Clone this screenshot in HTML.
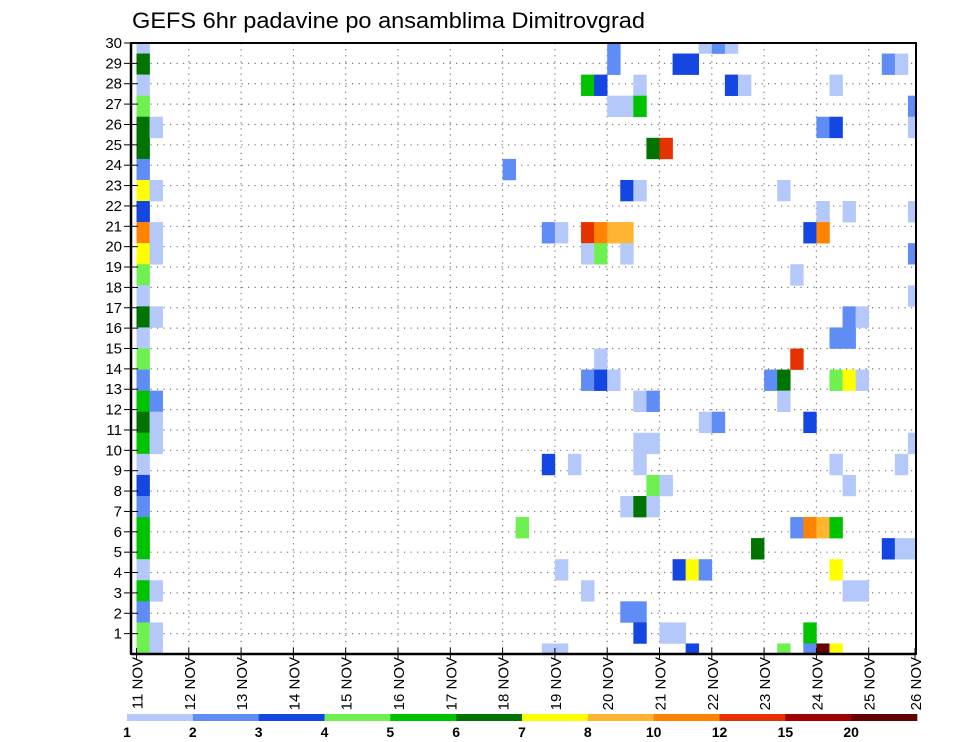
<!DOCTYPE html>
<html>
<head>
<meta charset="utf-8">
<style>
  html,body{margin:0;padding:0;background:#fff;}
  svg{display:block;}
  text{font-family:"Liberation Sans","DejaVu Sans",sans-serif;fill:#000;}
</style>
</head>
<body>
<svg id="chart" width="960" height="742" viewBox="0 0 960 742" xmlns="http://www.w3.org/2000/svg">
  <defs>
    <clipPath id="plotClip"><rect x="131" y="43" width="785" height="611"/></clipPath>
  </defs>
  <text x="132" y="28" font-size="22" textLength="513" lengthAdjust="spacingAndGlyphs">GEFS 6hr padavine po ansamblima Dimitrovgrad</text>
  <g id="grid"></g>
  <g id="cells" clip-path="url(#plotClip)"></g>
  <rect x="131" y="43" width="785" height="611" fill="none" stroke="#000" stroke-width="2"/>
  <g id="axes"></g>
  <g id="legend"></g>
</svg>
<script>
// ---- data ----
const dayLabels = ["11 NOV","12 NOV","13 NOV","14 NOV","15 NOV","16 NOV","17 NOV","18 NOV","19 NOV","20 NOV","21 NOV","22 NOV","23 NOV","24 NOV","25 NOV","26 NOV"];
const memberLabels = [1,2,3,4,5,6,7,8,9,10,11,12,13,14,15,16,17,18,19,20,21,22,23,24,25,26,27,28,29,30];
const levelColors = ["#b4c8fa","#5f8cf5","#1446e1","#6ef050","#00c300","#007300","#ffff00","#ffb432","#ff8200","#e63200","#a00000","#640000"];
const legendLabels = ["1","2","3","4","5","6","7","8","10","12","15","20"];
// column 0 full sequence for members 29..0
const col0Levels = [1,6,1,4,6,6,2,7,3,9,7,4,1,6,1,4,2,5,6,5,1,3,2,5,5,1,5,2,4,4];
// other cells: time step (6h columns), member index, level
const cellCol = [1,1,1,1,1,1,1,1,1,1,1,
  28,29,31,31,31,32,32,32,33,
  34,34,34,34,34, 35,35,35,35,35, 36,36,36,36,36, 37,37,37,37,37,37,
  38,38,38,38,38,38,38,38,38, 39,39,39,39,39, 40,40,40, 41,41,41, 42,42,42,
  43,43,43, 44,44, 45,45, 46, 47, 48, 49,49,49,49, 50,50,50,
  51,51,51,51,51, 52,52,52,52,52, 53,53,53,53,53,53,53,53,
  54,54,54,54,54,54, 55,55,55, 57,57, 58,58,58, 59,59,59,59,59,59,59];
const cellMember = [25,22,20,19,16,12,11,10,3,1,0,
  23,6,20,9,0,20,4,0,9,
  27,20,19,13,3, 27,20,19,14,13, 29,28,26,20,13, 26,22,20,19,7,2,
  27,26,22,12,10,9,7,2,1, 24,12,10,8,7, 24,8,1, 28,4,1, 28,4,0,
  29,11,4, 29,11, 29,27, 27, 5, 13, 22,13,12,0, 18,14,6,
  20,11,6,1,0, 25,21,20,6,0, 27,25,15,13,9,6,4,0,
  21,16,15,13,8,3, 16,13,3, 28,5, 28,9,5, 26,25,21,19,17,10,5];
const cellLevel = [1,1,1,1,1,2,1,1,1,1,1,
  2,4,2,3,1,1,1,1,1,
  5,10,1,2,1, 3,9,4,1,3, 2,2,1,8,1, 1,3,8,1,1,2,
  1,5,1,1,1,1,6,2,3, 6,2,1,4,1, 10,1,1, 3,3,1, 3,7,3,
  1,1,2, 2,2, 1,3, 1, 6, 2, 1,6,1,4, 1,10,2,
  3,3,9,5,2, 2,1,9,8,12, 1,3,2,4,1,5,7,7,
  1,2,2,7,1,1, 1,1,1, 2,3, 1,1,1, 2,1,1,2,1,1,1];

// ---- scales ----
const PX0 = 131, PX1 = 916, PY0 = 43, PY1 = 654;
const X0 = 136.5, DAY = 52.3, STEP = DAY / 4;
const NMEM = 30;
const CELL_H = (PY1 - PY0) / (NMEM - 1);
const LAB_H = (PY1 - PY0) / 30;
function xDay(d){ return X0 + d * DAY; }
function xCol(c){ return X0 + c * STEP; }
function yMember(k){ return PY1 - k * CELL_H; }
function yLabel(r){ return PY1 - r * LAB_H; }

const NS = "http://www.w3.org/2000/svg";
function mk(tag, attrs, parent){
  const e = document.createElementNS(NS, tag);
  for (const k in attrs) e.setAttribute(k, attrs[k]);
  parent.appendChild(e);
  return e;
}

// grid
const grid = document.getElementById("grid");
memberLabels.forEach(function(r){
  if (r >= 30) return;
  const y = yLabel(r);
  const l = mk("line", {x1:PX0, x2:PX1, y1:y, y2:y, stroke:"#777", "stroke-width":1.2, "stroke-dasharray":"1.2,5.3"}, grid);
  
  
});
dayLabels.forEach(function(lbl, d){
  if (d === 0 || d === dayLabels.length - 1) return;
  const x = xDay(d);
  const l = mk("line", {x1:x, x2:x, y1:PY0, y2:PY1, stroke:"#777", "stroke-width":1.2, "stroke-dasharray":"1.2,4.9"}, grid);
  
  
});

// cells
const cells = document.getElementById("cells");
function drawCell(c, k, lev){
  const x = xCol(c), yc = yMember(k);
  const r = mk("rect", {x:x, y:yc - CELL_H/2, width:STEP + 0.3, height:CELL_H + 0.3, fill:levelColors[lev-1]}, cells);
  
  
}
col0Levels.forEach(function(lev, i){ drawCell(0, NMEM - 1 - i, lev); });
cellCol.forEach(function(c, i){ drawCell(c, cellMember[i], cellLevel[i]); });

// axes
const axes = document.getElementById("axes");
mk("line", {x1:PX0, x2:PX0, y1:PY0, y2:PY1, stroke:"#000", "stroke-width":2.5}, axes);
mk("line", {x1:PX0, x2:PX1, y1:PY1, y2:PY1, stroke:"#000", "stroke-width":2.5}, axes);
memberLabels.forEach(function(r){
  const y = yLabel(r);
  const t = mk("line", {x1:124, x2:138, y1:y, y2:y, stroke:"#000", "stroke-width":1}, axes);
  
  
  const tx = mk("text", {x:122, y:y + 5, "font-size":15, "text-anchor":"end"}, axes);
  tx.textContent = r;
  
  
});
dayLabels.forEach(function(lbl, d){
  const x = Math.min(xDay(d), 915);
  const t = mk("line", {x1:x, x2:x, y1:PY1 - 6, y2:PY1 + 6, stroke:"#000", "stroke-width":1}, axes);
  
  
  const tx = mk("text", {x:0, y:0, "font-size":15, "text-anchor":"end", transform:"translate(" + (x + 6) + "," + (PY1 + 3) + ") rotate(-90)"}, axes);
  tx.textContent = lbl;
  
  
});

// legend
const legend = document.getElementById("legend");
const LX0 = 127, LX1 = 917, LW = (LX1 - LX0) / levelColors.length;
levelColors.forEach(function(col, i){
  const r = mk("rect", {x:LX0 + i*LW, y:714, width:LW + 0.3, height:7, fill:col}, legend);
  
  
});
legendLabels.forEach(function(lbl, i){
  const t = mk("text", {x:LX0 + i*LW, y:737, "font-size":14, "font-weight":"bold", "text-anchor":"middle"}, legend);
  t.textContent = lbl;
  
  
});
</script>
</body>
</html>
